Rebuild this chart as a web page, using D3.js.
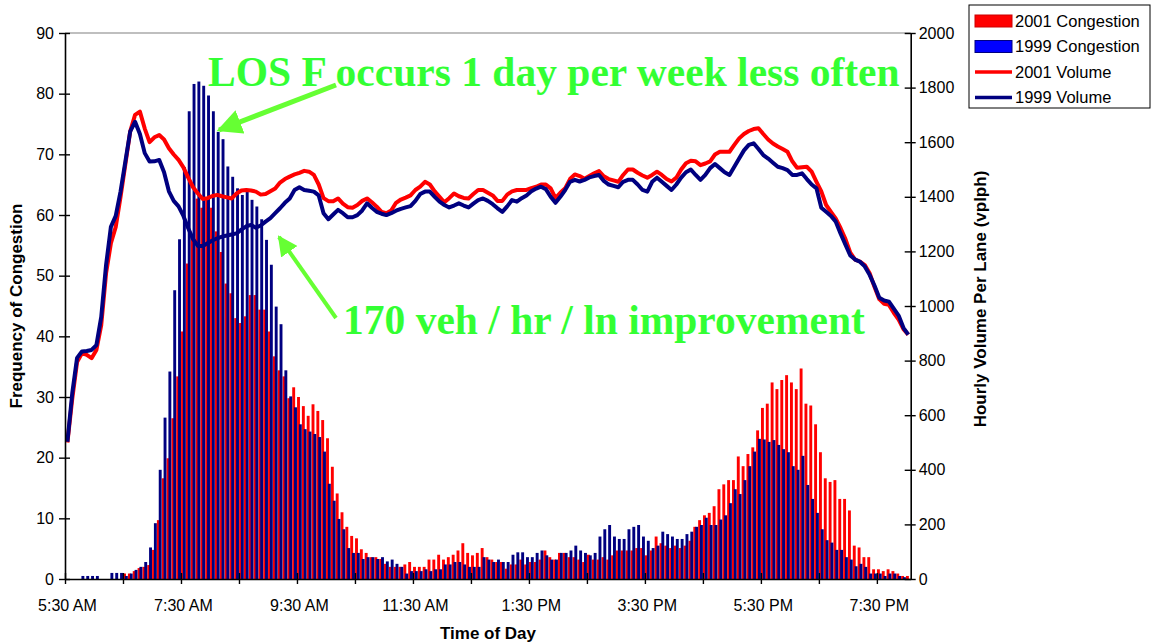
<!DOCTYPE html>
<html>
<head>
<meta charset="utf-8">
<script src="https://cdnjs.cloudflare.com/ajax/libs/d3/7.8.5/d3.min.js"></script>
<style>
  body { margin: 0; background: #fff; }
  #chart { width: 1151px; height: 643px; }
  text { font-family: "Liberation Sans", Arial, sans-serif; }
</style>
</head>
<body>
<div id="chart"></div>
<script>

/*------Chart values (5 minute intervals, 5:30 AM to 8:00 PM)------*/

var tickLabels = ["5:30 AM", "7:30 AM", "9:30 AM", "11:30 AM", "1:30 PM", "3:30 PM", "5:30 PM", "7:30 PM"];
var leftTicks = [0, 10, 20, 30, 40, 50, 60, 70, 80, 90];
var rightTicks = [0, 200, 400, 600, 800, 1000, 1200, 1400, 1600, 1800, 2000];

var congestion2001 = [
  0, 0, 0, 0, 0, 0, 0, 0, 0, 0, 0, 0, 0.9, 0.9, 1.3, 1.8, 2, 2.3, 4.8, 9.7,
  16.6, 19.9, 26.5, 33.4, 40.8, 52, 56.2, 62.7, 61.2, 62.7, 61.2, 57.3, 53.9, 48.7, 47.1, 43, 42.2, 43.3, 46.8, 46.8,
  44.4, 44.4, 40.8, 36.7, 34.4, 33.4, 29.8, 31.6, 30, 28.5, 26.9, 28.8, 27.7, 26.2, 23.2, 18.5, 14.1, 11, 8.6, 7.1,
  6.7, 4.9, 4.3, 3.6, 3.6, 3.3, 2.5, 2, 2, 2, 2.4, 2.8, 2, 2, 2, 3.2, 3.2, 4, 3.2, 3.6,
  4, 4.7, 5.9, 4.3, 3.9, 4.3, 5.1, 3.6, 3.2, 2.8, 2.8, 1.7, 2.4, 2.4, 3.2, 2.4, 2.8, 2.8, 3.2, 4.7,
  3.6, 3.2, 4.3, 4.3, 3.6, 3.6, 3.2, 2.8, 4, 3.2, 3.2, 3.6, 3.2, 3.9, 4.7, 4.7, 4.7, 4.7, 5.1, 5.1,
  3.9, 4.7, 7, 5.9, 5.5, 5.1, 5.5, 5.1, 5.5, 6.3, 8.6, 9.7, 10.5, 10.9, 12, 14.8, 15.6, 16.3, 16.3, 20.2,
  18.6, 20.6, 21.7, 24.5, 28.2, 28.9, 32.4, 31.3, 32.8, 33.6, 32.4, 31.3, 34.7, 28.9, 28.6, 25.5, 20.9, 16.6, 16, 16.3,
  13.2, 13.2, 11.3, 5.5, 5.2, 3.6, 3.6, 1.6, 1.6, 1.3, 1.6, 1.3, 0.9, 0.5, 0.5
];

var congestion1999 = [
  0, 0, 0, 0.5, 0.5, 0.5, 0.5, 0, 0, 1, 1, 1, 0.5, 0.9, 1.5, 2, 2.8, 5.2, 9.2, 18,
  26.6, 34.2, 47.6, 56, 67.9, 77.1, 81.6, 82, 81.3, 79.7, 77.1, 73.7, 72.5, 68, 66.3, 64.4, 63.3, 64.3, 62.5, 61.4,
  59.3, 55.9, 51.8, 44.9, 42, 34.4, 30.1, 28.3, 25.5, 24.7, 24.3, 23.9, 23.4, 21, 15.7, 12.9, 9.9, 8.2, 5.1, 4.3,
  4.3, 3.3, 3.6, 3.6, 3.3, 3.6, 2.9, 3.2, 2.5, 2, 0.9, 1.3, 1.3, 1.3, 1.6, 1.3, 1.6, 1.6, 2.4, 2.4,
  2.8, 2.8, 2.4, 2, 2, 2, 3.6, 3.2, 2.8, 3.2, 2.8, 2.8, 4, 4.4, 4.4, 3.6, 3.6, 4.3, 4.7, 3.9,
  3.2, 3.2, 4.3, 4.3, 4.7, 5.5, 4.7, 4.3, 3.9, 4.3, 7, 8.2, 8.9, 7, 6.6, 6.6, 8.2, 8.6, 8.9, 7,
  6.3, 5.1, 5.5, 7.8, 7.4, 7, 6.6, 6.6, 7.4, 7.8, 8.6, 8.9, 10.1, 8.9, 8.9, 9.8, 10.5, 12.5, 14.8, 14,
  16.3, 18.6, 21, 23.1, 23, 22.6, 22.9, 22.1, 21.4, 20.9, 18.6, 18, 20.3, 15.5, 13.2, 10.9, 8.2, 6.4, 6, 4.8,
  4.8, 3.6, 3.2, 2.1, 2.5, 2, 0.9, 0.9, 0.9, 0.5, 0.9, 0.9, 0.5, 0.3, 0
];

var volume2001 = [
  500, 660, 795, 827, 821, 809, 839, 930, 1120, 1230, 1290, 1400, 1520, 1640, 1700, 1712, 1650, 1600, 1618, 1626,
  1610, 1578, 1555, 1535, 1508, 1470, 1435, 1412, 1392, 1395, 1403, 1407, 1402, 1398, 1394, 1412, 1423, 1425, 1423, 1419,
  1408, 1410, 1420, 1430, 1452, 1465, 1474, 1482, 1488, 1495, 1492, 1480, 1445, 1395, 1384, 1384, 1394, 1375, 1362, 1360,
  1370, 1385, 1394, 1380, 1364, 1345, 1340, 1350, 1378, 1390, 1397, 1405, 1425, 1437, 1455, 1445, 1420, 1400, 1380, 1395,
  1412, 1402, 1396, 1394, 1410, 1425, 1425, 1415, 1405, 1385, 1385, 1408, 1420, 1425, 1425, 1425, 1432, 1437, 1445, 1445,
  1431, 1395, 1415, 1431, 1465, 1482, 1476, 1466, 1476, 1486, 1494, 1475, 1465, 1460, 1455, 1480, 1500, 1500, 1488, 1478,
  1470, 1480, 1492, 1480, 1465, 1456, 1470, 1500, 1523, 1532, 1530, 1516, 1522, 1530, 1555, 1565, 1565, 1565, 1590, 1614,
  1630, 1641, 1648, 1651, 1630, 1610, 1595, 1584, 1575, 1565, 1530, 1506, 1508, 1510, 1492, 1455, 1420, 1370, 1345, 1320,
  1285, 1245, 1195, 1170, 1163, 1150, 1120, 1070, 1025, 1008, 1004, 975, 950, 915, 895
];

var volume1999 = [
  503, 680, 810, 833, 835, 839, 857, 960, 1150, 1290, 1330, 1420, 1530, 1640, 1675, 1630, 1560, 1529, 1530, 1535,
  1490, 1420, 1385, 1365, 1330, 1285, 1245, 1220, 1220, 1230, 1240, 1248, 1254, 1258, 1262, 1266, 1280, 1292, 1297, 1287,
  1295, 1309, 1322, 1340, 1358, 1378, 1394, 1425, 1435, 1425, 1422, 1419, 1405, 1340, 1318, 1335, 1352, 1340, 1325, 1325,
  1333, 1350, 1376, 1360, 1345, 1338, 1333, 1340, 1349, 1356, 1361, 1366, 1385, 1410, 1419, 1419, 1400, 1382, 1370, 1361,
  1368, 1376, 1368, 1361, 1375, 1388, 1394, 1385, 1373, 1358, 1345, 1365, 1388, 1382, 1395, 1405, 1420, 1430, 1437, 1428,
  1400, 1378, 1400, 1425, 1455, 1462, 1456, 1462, 1471, 1476, 1480, 1458, 1445, 1440, 1435, 1455, 1462, 1462, 1445, 1425,
  1419, 1455, 1470, 1455, 1440, 1425, 1445, 1470, 1490, 1500, 1480, 1462, 1480, 1505, 1520, 1505, 1490, 1480, 1510, 1540,
  1570, 1590, 1596, 1575, 1553, 1540, 1525, 1510, 1505, 1498, 1480, 1480, 1486, 1465, 1445, 1431, 1360, 1345, 1330, 1309,
  1265, 1225, 1185, 1170, 1162, 1145, 1114, 1075, 1030, 1020, 1016, 990, 965, 920, 895
];

/*------Categories: one per 5 minutes------*/

var parseTime = d3.timeParse("%H:%M");
var formatTime = d3.timeFormat("%-I:%M %p");
var times = d3.timeMinute.every(5).range(parseTime("05:30"), parseTime("20:05")).map(formatTime);

/*------Canvas and plot area------*/

var width = 1151, height = 643;
var margin = {left: 65, right: 1151 - 910.7, top: 33, bottom: 643 - 579};

var svg = d3.select("#chart")
      .append("svg")
      .attr("width", width)
      .attr("height", height);

var x = d3.scaleBand()
      .domain(times)
      .range([margin.left, width - margin.right]);

var bw = x.bandwidth();

// plain index scale, used for the tick marks on category boundaries
var xIndex = d3.scaleLinear()
      .domain([0, times.length])
      .range([margin.left, width - margin.right]);

var yLeft = d3.scaleLinear()
      .domain([0, 90])
      .range([height - margin.bottom, margin.top]);

var yRight = d3.scaleLinear()
      .domain([0, 2000])
      .range([height - margin.bottom, margin.top]);

/*------Congestion bars (2001 behind, 1999 in front)------*/

svg.append("g")
    .selectAll("rect")
    .data(congestion2001)
    .enter()
    .append("rect")
      .attr("x", function(d, i) { return x(times[i]) + bw * 0.02; })
      .attr("y", function(d) { return yLeft(d); })
      .attr("width", bw * 0.6)
      .attr("height", function(d) { return yLeft(0) - yLeft(d); })
      .attr("fill", "#ff0000");

svg.append("g")
    .selectAll("rect")
    .data(congestion1999)
    .enter()
    .append("rect")
      .attr("x", function(d, i) { return x(times[i]) + bw * 0.4; })
      .attr("y", function(d) { return yLeft(d); })
      .attr("width", bw * 0.6)
      .attr("height", function(d) { return yLeft(0) - yLeft(d); })
      .attr("fill", "#000080");

/*------Volume lines------*/

var volLine = d3.line()
      .x(function(d, i) { return x(times[i]) + bw / 2; })
      .y(function(d) { return yRight(d); });

svg.append("path")
    .datum(volume2001)
    .attr("d", volLine)
    .attr("fill", "none")
    .attr("stroke", "#ff0000")
    .attr("stroke-width", 4)
    .attr("stroke-linejoin", "round");

svg.append("path")
    .datum(volume1999)
    .attr("d", volLine)
    .attr("fill", "none")
    .attr("stroke", "#000080")
    .attr("stroke-width", 4)
    .attr("stroke-linejoin", "round");

/*------Axes------*/

// grey top edge of the plot area
svg.append("line")
    .attr("x1", margin.left).attr("x2", width - margin.right)
    .attr("y1", margin.top).attr("y2", margin.top)
    .attr("stroke", "#808080")
    .attr("stroke-width", 1.2);

var leftAxis = svg.append("g")
    .attr("transform", "translate(" + margin.left + ",0)")
    .call(d3.axisLeft(yLeft).tickValues(leftTicks).tickSizeInner(6).tickSizeOuter(0).tickPadding(5));

leftAxis.selectAll(".tick line").attr("x1", 5);

var rightAxis = svg.append("g")
    .attr("transform", "translate(" + (width - margin.right) + ",0)")
    .call(d3.axisRight(yRight).tickValues(rightTicks).tickFormat(d3.format("d"))
      .tickSizeInner(5).tickSizeOuter(0).tickPadding(3));

rightAxis.selectAll(".tick line").attr("x1", -6);

var tickAxis = svg.append("g")
    .attr("transform", "translate(0," + (height - margin.bottom) + ")")
    .call(d3.axisBottom(xIndex).tickValues(d3.range(0, times.length, 12)).tickFormat("").tickSizeInner(5).tickSizeOuter(0));

tickAxis.selectAll(".tick line").attr("y1", -6);

var labelAxis = svg.append("g")
    .attr("transform", "translate(0," + (height - margin.bottom) + ")")
    .call(d3.axisBottom(x).tickValues(tickLabels).tickSize(0).tickPadding(21));

labelAxis.select(".domain").remove();

svg.selectAll(".domain").attr("stroke", "#000").attr("stroke-width", 1.6);
svg.selectAll(".tick line").attr("stroke", "#000").attr("stroke-width", 1.4);
svg.selectAll(".tick text")
    .style("font-family", "'Liberation Sans', Arial, sans-serif")
    .style("font-size", "16px")
    .attr("fill", "#000");

/*------Axis titles------*/

svg.append("text")
    .attr("transform", "translate(22,306) rotate(-90)")
    .attr("text-anchor", "middle")
    .style("font-size", "17px")
    .style("font-weight", "bold")
    .text("Frequency of Congestion");

svg.append("text")
    .attr("transform", "translate(986,299) rotate(-90)")
    .attr("text-anchor", "middle")
    .style("font-size", "17px")
    .style("font-weight", "bold")
    .text("Hourly Volume Per Lane (vplph)");

svg.append("text")
    .attr("x", 488).attr("y", 639)
    .attr("text-anchor", "middle")
    .style("font-size", "17px")
    .style("font-weight", "bold")
    .text("Time of Day");

/*------Annotations------*/

var arrowGreen = "#66ff33";

svg.append("defs").append("marker")
    .attr("id", "head")
    .attr("viewBox", "0 0 10 10")
    .attr("refX", 9).attr("refY", 5)
    .attr("markerWidth", 5).attr("markerHeight", 5)
    .attr("markerUnits", "strokeWidth")
    .attr("orient", "auto")
  .append("path")
    .attr("d", "M0,0 L10,5 L0,10 z")
    .attr("fill", arrowGreen);

svg.append("line")
    .attr("x1", 336).attr("y1", 85).attr("x2", 219).attr("y2", 130)
    .attr("stroke", arrowGreen).attr("stroke-width", 5)
    .attr("marker-end", "url(#head)");

svg.append("line")
    .attr("x1", 336).attr("y1", 318).attr("x2", 279).attr("y2", 237)
    .attr("stroke", arrowGreen).attr("stroke-width", 4)
    .attr("marker-end", "url(#head)");

svg.append("text")
    .attr("x", 208).attr("y", 86)
    .style("font-family", "'Liberation Serif', 'Times New Roman', serif")
    .style("font-size", "41.5px")
    .style("font-weight", "bold")
    .attr("fill", "#33ff33")
    .text("LOS F occurs 1 day per week less often");

svg.append("text")
    .attr("x", 343).attr("y", 334)
    .style("font-family", "'Liberation Serif', 'Times New Roman', serif")
    .style("font-size", "41.5px")
    .style("font-weight", "bold")
    .attr("fill", "#33ff33")
    .text("170 veh / hr / ln improvement");

/*------Legend------*/

var legend = svg.append("g").attr("transform", "translate(969,5)");

legend.append("rect")
    .attr("width", 181).attr("height", 103)
    .attr("fill", "#fff").attr("stroke", "#000").attr("stroke-width", 1);

var legendItems = [
  {name: "2001 Congestion", kind: "bar", fill: "#ff0000", edge: "#cc0000"},
  {name: "1999 Congestion", kind: "bar", fill: "#0000ff", edge: "#000080"},
  {name: "2001 Volume", kind: "line", edge: "#ff0000"},
  {name: "1999 Volume", kind: "line", edge: "#000080"}
];

legendItems.forEach(function(item, i) {
  var cy = 16 + i * 25.5;
  if (item.kind == "bar") {
    legend.append("rect")
        .attr("x", 6).attr("y", cy - 6).attr("width", 37).attr("height", 12)
        .attr("fill", item.fill).attr("stroke", item.edge).attr("stroke-width", 1);
  } else {
    legend.append("line")
        .attr("x1", 6).attr("x2", 43).attr("y1", cy).attr("y2", cy)
        .attr("stroke", item.edge).attr("stroke-width", 3.5);
  }
  legend.append("text")
      .attr("x", 46).attr("y", cy)
      .attr("dy", "0.35em")
      .style("font-size", "16.5px")
      .text(item.name);
});

</script>
</body>
</html>
